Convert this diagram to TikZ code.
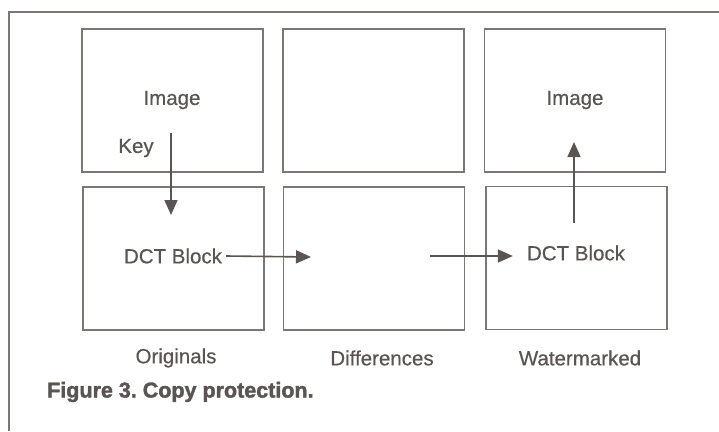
\documentclass[tikz,border=0pt]{standalone}
\usepackage{fontspec}
\setmainfont{Liberation Sans}
\newfontfamily\lblfont{Liberation Sans}[FakeBold=0.5]
\newfontfamily\capfont{Liberation Sans Bold}[FakeBold=1.8]
\usetikzlibrary{arrows.meta,positioning}
\definecolor{cInk}{HTML}{5A5452}
\definecolor{cLine}{HTML}{7C7674}
\tikzset{
  panel/.style={rectangle,draw=cLine,line width=1.8pt,minimum width=181pt,minimum height=143pt,inner sep=0pt},
  lbl/.style={text=cInk,font=\fontsize{20.5}{24}\lblfont,inner sep=0pt},
  arr/.style={-{Triangle[length=15pt,width=13pt]},line width=1.6pt,cInk},
}
\frenchspacing
\begin{document}
\begin{tikzpicture}[x=1pt,y=-1pt]
  \useasboundingbox (0,0) rectangle (719,431);
  \draw[cLine,line width=2.8pt] (9,431) -- (9,12) -- (719,12);
  % top row
  \node[panel] (orgimg) at (172.5,100.5) {};
  \node[panel] (difimg) at (373.5,100.5) {};
  \node[panel] (wmkimg) at (575,100.5) {};
  % bottom row
  \node[panel] (orgdct) at (173.5,258.5) {};
  \node[panel] (difdct) at (374,258.5) {};
  \node[panel] (wmkdct) at (576.5,258) {};
  % texts
  \node[lbl] (img1) at (172,100) {Image};
  \node[lbl] (img3) at (575,100) {Image};
  \node[lbl] (key) at (136,148) {Key};
  \node[lbl] (dct1) at (173,256) {DCT Block};
  \node[lbl] (dct3) at (576,253) {DCT Block};
  \node[lbl] (cap1) at (176,358) {Originals};
  \node[lbl] (cap2) at (382,358) {Differences};
  \node[lbl] (cap3) at (580,358) {Watermarked};
  \node[lbl,anchor=west,font=\fontsize{21.5}{24}\capfont] (fig) at (47,392) {Figure 3. Copy protection.};
  % arrows
  \coordinate (k0) at (171,133);
  \coordinate (k1) at (171,215);
  \coordinate (d1) at (311,257);
  \coordinate (d2) at (430,256);
  \coordinate (w0) at (574,223);
  \coordinate (w1) at (574,142);
  \draw[arr] (k0) -- (k1);
  \draw[arr] (dct1.east) ++(4,0) -- (d1);
  \draw[arr] (d2) -- ([xshift=-14pt]dct3.west |- d2);
  \draw[arr] (w0) -- (w1);
\end{tikzpicture}
\end{document}
